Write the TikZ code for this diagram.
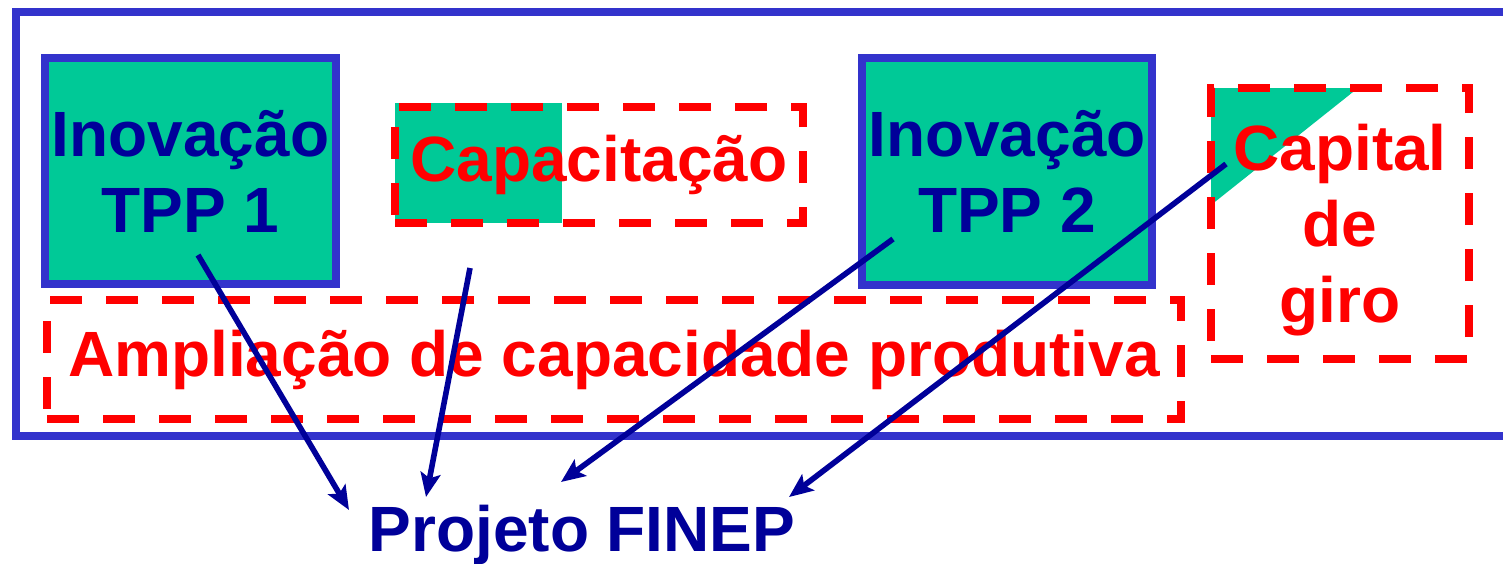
\documentclass[tikz,border=0pt]{standalone}
\usepackage{fontspec}
\setmainfont{Liberation Sans}
\usetikzlibrary{arrows.meta,positioning}

\definecolor{boxgreen}{RGB}{0,201,151}
\definecolor{frameblue}{RGB}{51,51,204}
\definecolor{textblue}{RGB}{0,0,153}
\definecolor{dashred}{RGB}{255,0,0}

\begin{document}
\begin{tikzpicture}[x=0.5pt,y=-0.5pt]

	\tikzstyle{block} = [rectangle, draw=frameblue, line width=4pt, fill=boxgreen,
		text=textblue, align=center, font=\bfseries\fontsize{32}{38}\selectfont,
		minimum width=143.5pt, minimum height=113pt]
	\tikzstyle{dashblock} = [rectangle, draw=dashred, line width=4pt,
		dash pattern=on 16pt off 12pt, text=dashred, align=center,
		font=\bfseries\fontsize{32}{38}\selectfont]
	\tikzstyle{plaintext} = [draw=none, fill=none, text=textblue,
		font=\bfseries\fontsize{32}{38}\selectfont]
	\tikzstyle{line} = [draw=textblue, line width=2.8pt,
		-{Stealth[length=12pt,width=10pt,inset=2.5pt]}]

    \useasboundingbox (0,0) rectangle (1503,563);

    % Outer frame, open to the right
    \draw [frameblue, line width=4pt] (1503,12) -- (16,12) -- (16,436) -- (1503,436);

    % Green patches behind the dashed boxes
    \fill [boxgreen] (395,103) rectangle (562,223);
    \fill [boxgreen] (1211,88) -- (1358,88) -- (1211,205) -- cycle;

    % Place nodes
    \node [block] at (190.5,171) (tpp1) {Inovação\\TPP 1};
    \node [dashblock, minimum width=204pt, minimum height=58pt] at (599,165) (capac) {Capacitação};
    \node [block, minimum width=144pt, minimum height=113.5pt] at (1007,171) (tpp2) {Inovação\\TPP 2};
    \node [dashblock, minimum width=129pt, minimum height=135.5pt] at (1340,223.5) (giro) {\rule{0pt}{30pt}Capital\\de\\giro};
    \node [dashblock, minimum width=567pt, minimum height=59.5pt] at (614,359.5) (ampl) {Ampliação de capacidade produtiva};
    \node [plaintext] at (582,535) (finep) {Projeto FINEP};

    % Arrow ends
    \coordinate (tpp1_out) at (198,255);
    \coordinate (capac_out) at (470,268);
    \coordinate (tpp2_out) at (893,239);
    \coordinate (giro_out) at (1226,164);
    \coordinate (finep_a) at (349,510);
    \coordinate (finep_b) at (426,497);
    \coordinate (finep_c) at (561,482);
    \coordinate (finep_d) at (789,497);

    % Draw edges
    \path [line] (tpp1_out) -- (finep_a);
    \path [line] (capac_out) -- (finep_b);
    \path [line] (tpp2_out) -- (finep_c);
    \path [line] (giro_out) -- (finep_d);
\end{tikzpicture}
\end{document}
